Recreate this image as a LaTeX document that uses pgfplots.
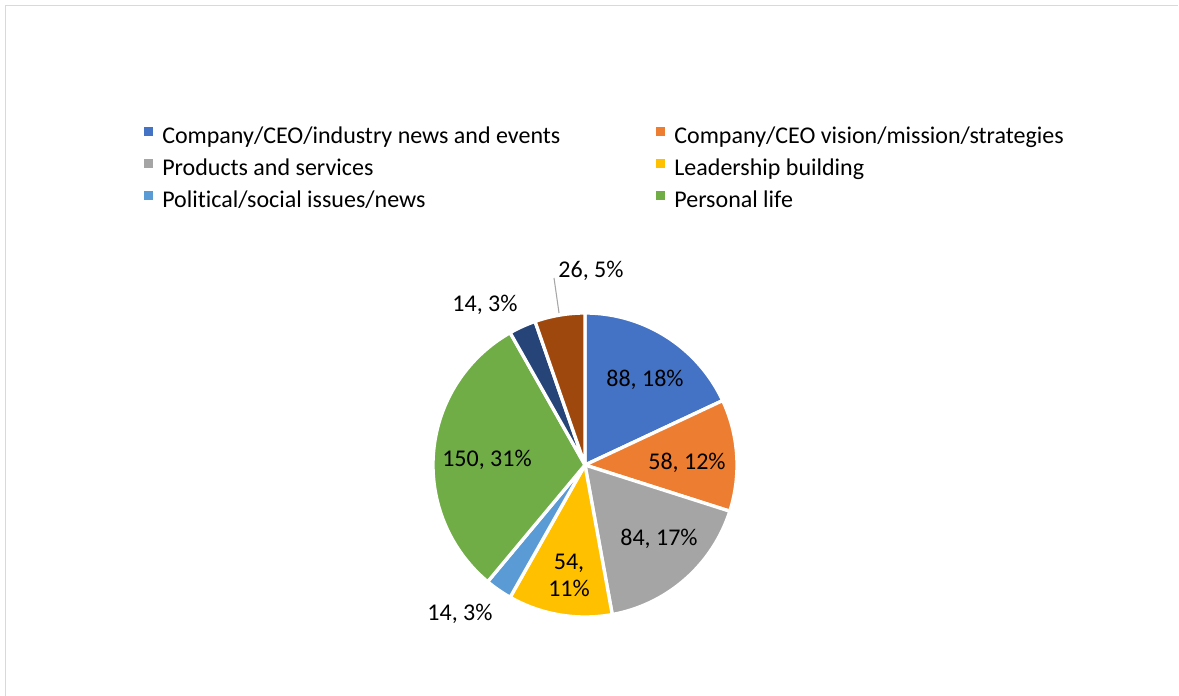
\documentclass[border=0pt]{standalone}
\usepackage{fontspec}
\setmainfont{Carlito}[Ligatures=NoCommon]
\usepackage{pgfplots}
\usepackage{pgfplotstable}
\pgfplotsset{compat=1.18}

\definecolor{sl0}{HTML}{4472C4}
\definecolor{sl1}{HTML}{ED7D31}
\definecolor{sl2}{HTML}{A5A5A5}
\definecolor{sl3}{HTML}{FFC000}
\definecolor{sl4}{HTML}{5B9BD5}
\definecolor{sl5}{HTML}{70AD47}
\definecolor{sl6}{HTML}{264478}
\definecolor{sl7}{HTML}{9E480E}
\definecolor{frame}{HTML}{D9D9D9}

% counts per topic, in Excel's clockwise order from 12 o'clock
\pgfplotstableread{
value
88
58
84
54
14
150
14
26
}\piedata

\newcommand\lbl{\fontsize{18pt}{21pt}\selectfont}

% one wedge, angles taken from the cumulative sums below
\newcommand\pieslice[2]{%
  \edef\lo{\csname lo#1\endcsname}\edef\hi{\csname hi#1\endcsname}%
  \addplot[fill=sl#1, draw=white, line width=2.5pt, domain=\lo:\hi,
    samples=80, variable=\t, #2]
    ({585+152*cos(\t)}, {231+152*sin(\t)}) -- (axis cs:585,231) -- cycle;}

\begin{document}
\begin{tikzpicture}
\pgfplotstablegetrowsof{\piedata}
\pgfmathtruncatemacro\nrows{\pgfplotsretval-1}
\xdef\total{0}
\foreach \i in {0,...,\nrows}{%
  \pgfplotstablegetelem{\i}{value}\of\piedata
  \pgfmathparse{\total+\pgfplotsretval}\xdef\total{\pgfmathresult}}
\xdef\cum{0}
\foreach \i in {0,...,\nrows}{%
  \pgfplotstablegetelem{\i}{value}\of\piedata
  \pgfmathsetmacro\hi{90-\cum/\total*360}
  \pgfmathparse{\cum+\pgfplotsretval}\xdef\cum{\pgfmathresult}
  \pgfmathsetmacro\lo{90-\cum/\total*360}
  \expandafter\xdef\csname hi\i\endcsname{\hi}
  \expandafter\xdef\csname lo\i\endcsname{\lo}}

\begin{axis}[name=ax, x=0.75pt, y=0.75pt,
  xmin=0, xmax=1179, ymin=0, ymax=696,
  hide axis, clip=false,
  legend columns=2, legend cell align=left,
  legend image code/.code={\fill[#1, draw=none] (0pt,1.5pt) rectangle (6.75pt,8.25pt);},
  legend style={draw=none, fill=none, inner sep=0pt,
    at={(axis cs:144,574.3)}, anchor=north west, font=\lbl,
    row sep=0pt,
    nodes={inner xsep=0pt, inner ysep=0pt, text height=16pt, text depth=8pt},
    /tikz/every odd column/.style={column sep=6.75pt},
    /tikz/every even column/.style={column sep=72pt}},
  ]
\draw[frame, line width=1.1pt] (axis cs:5.5,0) |- (axis cs:1178,690.5);

\pieslice{0}{}
\pieslice{1}{}
\pieslice{2}{}
\pieslice{3}{}
\pieslice{4}{}
\pieslice{5}{}
\pieslice{6}{forget plot}
\pieslice{7}{forget plot}
\legend{Company/CEO/industry news and events,
  Company/CEO vision/mission/strategies,
  Products and services, Leadership building,
  Political/social issues/news, Personal life}

\draw[black!35, line width=0.8pt] (axis cs:554,418) -- (axis cs:559,383);

\begin{scope}[every node/.style={font=\lbl, anchor=base, inner sep=0pt}]
\node at (axis cs:645,309) {88, 18\%};
\node at (axis cs:687,226) {58, 12\%};
\node at (axis cs:659,150) {84, 17\%};
\node at (axis cs:569,126) {54,};
\node at (axis cs:569,99) {11\%};
\node at (axis cs:460,75) {14, 3\%};
\node at (axis cs:487,229) {150, 31\%};
\node at (axis cs:485,384) {14, 3\%};
\node at (axis cs:591,418) {26, 5\%};
\end{scope}
\end{axis}
\pgfresetboundingbox
\useasboundingbox (ax.south west) rectangle (ax.north east);
\end{tikzpicture}
\end{document}
